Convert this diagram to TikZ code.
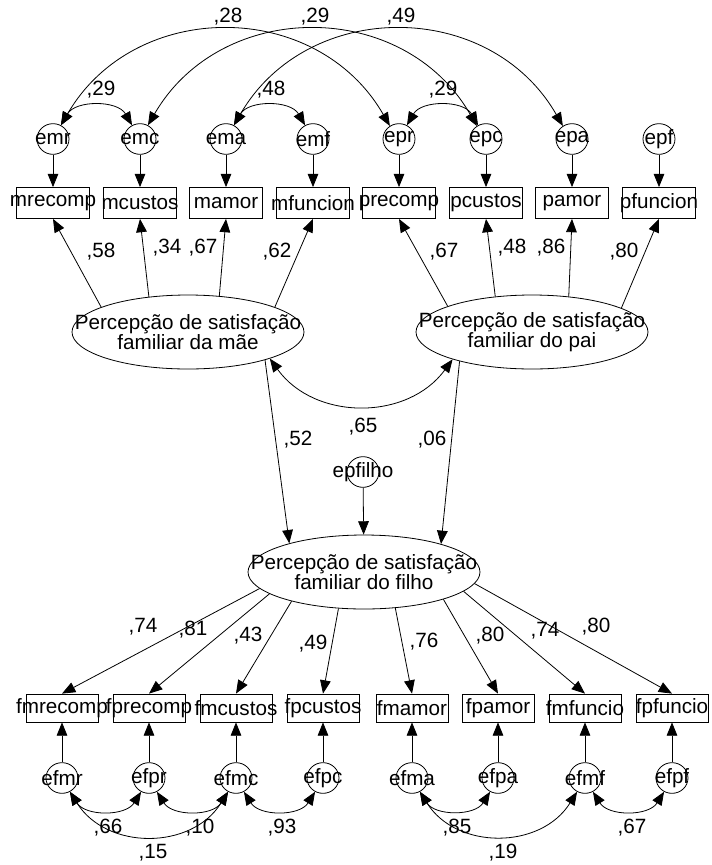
\documentclass[tikz,border=0pt]{standalone}
\usepackage{fontspec}
\setmainfont{Liberation Sans}
\usetikzlibrary{shapes.geometric,arrows.meta}
\begin{document}
\begin{tikzpicture}[x=0.75pt,y=-0.75pt,line width=0.6pt,
  every node/.style={font=\fontsize{15.5}{15}\selectfont},
  errc/.style={draw,ellipse,minimum width=24pt,minimum height=23pt,inner sep=0pt},
  tbox/.style={draw,rectangle,minimum width=54.75pt,minimum height=23.25pt,inner sep=0pt},
  bbox/.style={draw,rectangle,minimum width=54pt,minimum height=21pt,inner sep=0pt},
  latent/.style={draw,ellipse,minimum width=174pt,minimum height=55.5pt,inner sep=0pt},
  coef/.style={inner sep=0pt},
  arr/.style={-{Triangle[length=10pt,width=8pt]}},
  darr/.style={{Triangle[length=10pt,width=8pt]}-{Triangle[length=10pt,width=8pt]}},
]
\useasboundingbox (0,0) rectangle (712,865);

% top error terms
\node[errc,label=center:emr] (emr) at (53,139) {};
\node[errc,label=center:emc] (emc) at (140,139) {};
\node[errc,label=center:ema] (ema) at (226,139) {};
\node[errc,label=center:emf] (emf) at (313,139) {};
\node[errc,label=center:epr] (epr) at (399,139) {};
\node[errc,label=center:epc] (epc) at (486,139) {};
\node[errc,label=center:epa] (epa) at (572,139) {};
\node[errc,label=center:epf] (epf) at (659,139) {};

% top boxes
\node[tbox,label=center:mrecomp] (mrecomp) at (53,203) {};
\node[tbox,label=center:mcustos] (mcustos) at (140,203) {};
\node[tbox,label=center:mamor] (mamor) at (226,203) {};
\node[tbox,label=center:mfuncion] (mfuncion) at (313,203) {};
\node[tbox,label=center:precomp] (precomp) at (399,203) {};
\node[tbox,label=center:pcustos] (pcustos) at (486,203) {};
\node[tbox,label=center:pamor] (pamor) at (572,203) {};
\node[tbox,label=center:pfuncion] (pfuncion) at (659,203) {};

% latent variables
\node[latent,label={[align=center]center:{Percepção de satisfação\\familiar da mãe}}] (mother) at (188,332) {};
\node[latent,label={[align=center]center:{Percepção de satisfação\\familiar do pai}}] (father) at (532,332) {};
\node[latent,label={[align=center]center:{Percepção de satisfação\\familiar do filho}}] (child) at (364,572) {};
\node[errc,label=center:epfilho] (epfilho) at (363,472) {};

% bottom boxes
\node[bbox,label=center:fmrecomp] (fmrecomp) at (62,708) {};
\node[bbox,label=center:fprecomp] (fprecomp) at (149,708) {};
\node[bbox,label=center:fmcustos] (fmcustos) at (236,708) {};
\node[bbox,label=center:fpcustos] (fpcustos) at (323,708) {};
\node[bbox,label=center:fmamor] (fmamor) at (412,708) {};
\node[bbox,label=center:fpamor] (fpamor) at (498,708) {};
\node[bbox,label=center:fmfuncio] (fmfuncio) at (585,708) {};
\node[bbox,label=center:fpfuncio] (fpfuncio) at (672,708) {};

% bottom error terms
\node[errc,label=center:efmr] (efmr) at (62,778) {};
\node[errc,label=center:efpr] (efpr) at (149,778) {};
\node[errc,label=center:efmc] (efmc) at (236,778) {};
\node[errc,label=center:efpc] (efpc) at (323,778) {};
\node[errc,label=center:efma] (efma) at (412,778) {};
\node[errc,label=center:efpa] (efpa) at (498,778) {};
\node[errc,label=center:efmf] (efmf) at (585,778) {};
\node[errc,label=center:efpf] (efpf) at (672,778) {};

% error -> top boxes
\foreach \e/\b in {emr/mrecomp,emc/mcustos,ema/mamor,emf/mfuncion,epr/precomp,epc/pcustos,epa/pamor,epf/pfuncion}
  \draw[arr] (\e.south) -- (\b.north);

% top covariances
\draw[darr] (emr.60) to[bend left=60,looseness=1.05] (emc.120);
\draw[darr] (ema.60) to[bend left=60,looseness=1.05] (emf.120);
\draw[darr] (epr.60) to[bend left=60,looseness=1.05] (epc.120);
\draw[darr] (emr.60) to[bend left=60,looseness=1.14] (epr.125);
\draw[darr] (emc.60) to[bend left=60,looseness=1.14] (epc.125);
\draw[darr] (ema.60) to[bend left=60,looseness=1.14] (epa.125);

% mother loadings
\draw[arr] (mother.164.7) -- (mrecomp.south);
\draw[arr] (mother.138.8) -- (mcustos.south);
\draw[arr] (mother.49.3) -- (mamor.south);
\draw[arr] (mother.16.4) -- (mfuncion.south);
% father loadings
\draw[arr] (father.163.6) -- (precomp.south);
\draw[arr] (father.136.6) -- (pcustos.south);
\draw[arr] (father.44.2) -- (pamor.south);
\draw[arr] (father.15.7) -- (pfuncion.south);

% structural part
\draw[darr] (mother.-18.4) to[bend right=54,looseness=1.07] (father.-161.6);
\draw[arr] (mother.-20.5) -- (child.159.8);
\draw[arr] (father.-158.2) -- (child.20.2);
\draw[arr] (epfilho) -- (child);

% child loadings
\draw[arr] (child.-171.9) -- (fmrecomp.north);
\draw[arr] (child.-167.5) -- (fprecomp.north);
\draw[arr] (child.-158.1) -- (fmcustos.north);
\draw[arr] (child.-125.8) -- (fpcustos.north);
\draw[arr] (child.-49) -- (fmamor.north);
\draw[arr] (child.-19.8) -- (fpamor.north);
\draw[arr] (child.-11) -- (fmfuncio.north);
\draw[arr] (child.-6.6) -- (fpfuncio.north);

% bottom error -> boxes
\foreach \e/\b in {efmr/fmrecomp,efpr/fprecomp,efmc/fmcustos,efpc/fpcustos,efma/fmamor,efpa/fpamor,efmf/fmfuncio,efpf/fpfuncio}
  \draw[arr] (\e.north) -- (\b.south);

% bottom covariances
\draw[darr] (efmr.-60) to[bend right=58,looseness=1.05] (efpr.-120);
\draw[darr] (efpr.-60) to[bend right=58,looseness=1.05] (efmc.-120);
\draw[darr] (efmc.-60) to[bend right=58,looseness=1.05] (efpc.-120);
\draw[darr] (efmr.-60) to[bend right=58,looseness=1.12] (efmc.-120);
\draw[darr] (efma.-60) to[bend right=58,looseness=1.05] (efpa.-120);
\draw[darr] (efmf.-60) to[bend right=58,looseness=1.05] (efpf.-120);
\draw[darr] (efma.-60) to[bend right=58,looseness=1.12] (efmf.-120);

% coefficients
\node[coef] (c1) at (228,17) {,28};
\node[coef] (c2) at (315,17) {,29};
\node[coef] (c3) at (401,17) {,49};
\node[coef] (c4) at (101,90) {,29};
\node[coef] (c5) at (271,90) {,48};
\node[coef] (c6) at (443,90) {,29};
\node[coef] (c7) at (101,252) {,58};
\node[coef] (c8) at (167,248) {,34};
\node[coef] (c9) at (203,248) {,67};
\node[coef] (c10) at (277,252) {,62};
\node[coef] (c11) at (444,252) {,67};
\node[coef] (c12) at (512,248) {,48};
\node[coef] (c13) at (551,248) {,86};
\node[coef] (c14) at (624,252) {,80};
\node[coef] (c15) at (363,427) {,65};
\node[coef] (c16) at (298,440) {,52};
\node[coef] (c17) at (432,440) {,06};
\node[coef] (c18) at (143,627) {,74};
\node[coef] (c19) at (193,630) {,81};
\node[coef] (c20) at (248,636) {,43};
\node[coef] (c21) at (313,644) {,49};
\node[coef] (c22) at (424,642) {,76};
\node[coef] (c23) at (490,636) {,80};
\node[coef] (c24) at (545,631) {,74};
\node[coef] (c25) at (596,627) {,80};
\node[coef] (c26) at (108,828) {,66};
\node[coef] (c27) at (200,828) {,10};
\node[coef] (c28) at (282,828) {,93};
\node[coef] (c29) at (153,853) {,15};
\node[coef] (c30) at (457,828) {,85};
\node[coef] (c31) at (503,853) {,19};
\node[coef] (c32) at (632,828) {,67};
\end{tikzpicture}
\end{document}
